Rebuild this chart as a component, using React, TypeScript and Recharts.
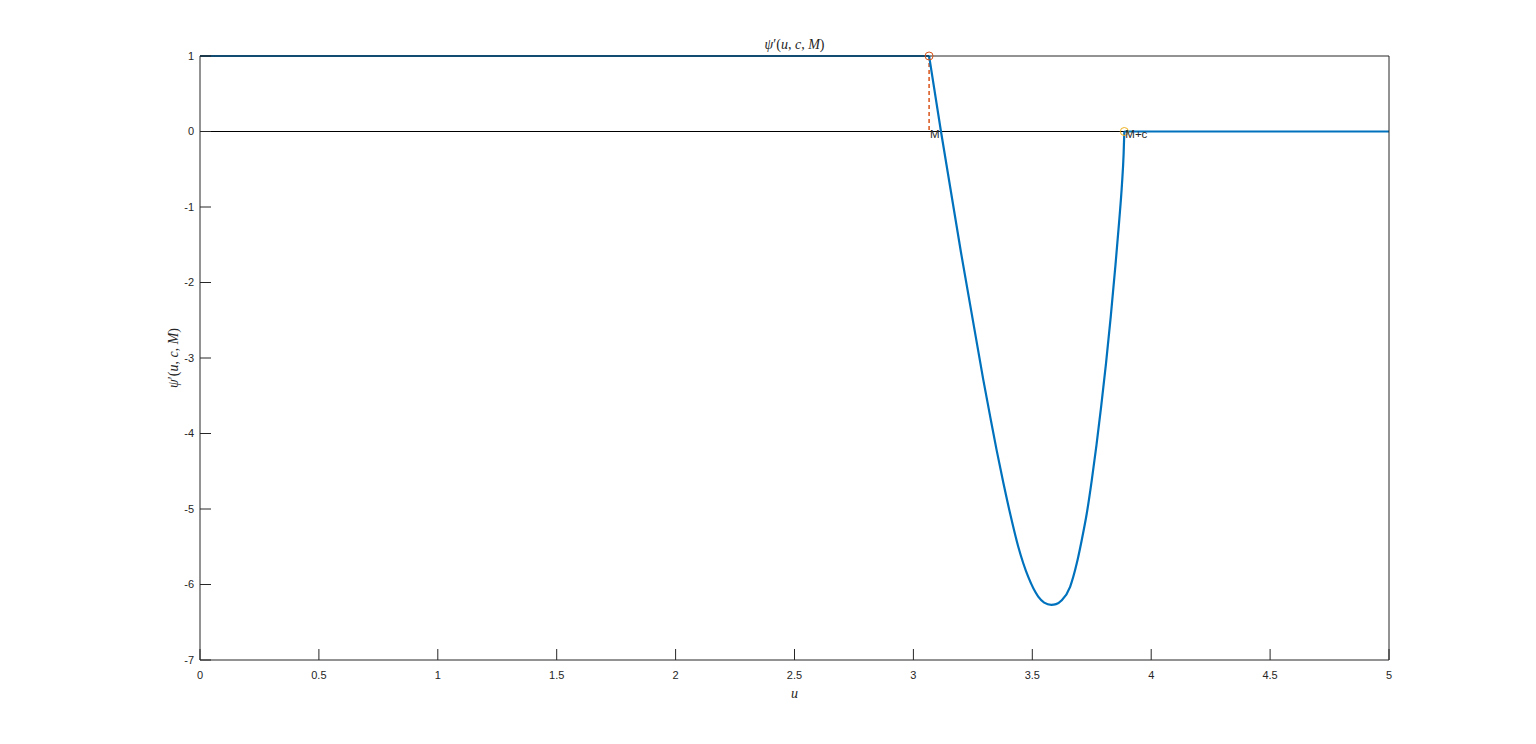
import React from 'react';
import { LineChart, Line, XAxis, YAxis, ReferenceDot, Label } from 'recharts';

// flat part at psi' = 1 (u from 0 to M)
const topU = [0, 3.066];
const topV = [1, 1];
// the dip between M and M+c
const dipU = [3.066, 3.116, 3.2, 3.294, 3.322, 3.35, 3.378, 3.406, 3.441, 3.483, 3.525, 3.55, 3.58, 3.6, 3.624, 3.659, 3.687, 3.708, 3.729, 3.75, 3.77, 3.79, 3.81, 3.83, 3.85, 3.865, 3.877, 3.884, 3.887];
const dipV = [1, 0, -1.6, -3.29, -3.76, -4.22, -4.65, -5.05, -5.5, -5.9, -6.16, -6.24, -6.27, -6.26, -6.21, -6.03, -5.72, -5.41, -5.06, -4.62, -4.15, -3.63, -3.07, -2.45, -1.76, -1.2, -0.7, -0.3, 0];
// flat part at psi' = 0 (u from M+c to 5)
const tailU = [3.887, 5];
const tailV = [0, 0];

const zeroU = [0, 5];
const zeroV = [0, 0];

const M_U = 3.066;
const MC_U = 3.887;
const dashU = [M_U, M_U];
const dashV = [1, 0];

const xTicks = [0, 0.5, 1, 1.5, 2, 2.5, 3, 3.5, 4, 4.5, 5];
const yTicks = [-7, -6, -5, -4, -3, -2, -1, 0, 1];

const toData = (us: number[], vs: number[]) => us.map((u, i) => ({ u, v: vs[i] }));
const topData = toData(topU, topV);
const dipData = toData(dipU, dipV);
const tailData = toData(tailU, tailV);
const zeroData = toData(zeroU, zeroV);
const dashData = toData(dashU, dashV);

const AX = '#262626';
const BLUE = '#0072BD';
const RED = '#D95319';
const YELLOW = '#EDB120';
const SANS = '"Liberation Sans", Arial, Helvetica, sans-serif';
const SERIF = '"Liberation Serif", "DejaVu Serif", serif';

const PsiText = (props: any) => (
  <text {...props} fontFamily={SERIF} fontSize={14} fill={AX}>
    <tspan fontStyle="italic">ψ</tspan>
    <tspan>′(</tspan>
    <tspan fontStyle="italic">u</tspan>
    <tspan>, </tspan>
    <tspan fontStyle="italic">c</tspan>
    <tspan>, </tspan>
    <tspan fontStyle="italic">M</tspan>
    <tspan>)</tspan>
  </text>
);

const renderTitle = (props: any) => {
  const vb = props.viewBox || {};
  return <PsiText x={vb.x + vb.width / 2} y={vb.y + vb.height - 7} textAnchor="middle" />;
};

const renderXLabel = (props: any) => {
  const vb = props.viewBox || {};
  return (
    <text x={vb.x + vb.width / 2} y={vb.y + 38} textAnchor="middle" fontFamily={SERIF} fontStyle="italic" fontSize={14} fill={AX}>
      u
    </text>
  );
};

const renderYLabel = (props: any) => {
  const vb = props.viewBox || {};
  const x = vb.x + vb.width - 22;
  const y = vb.y + vb.height / 2;
  return <PsiText x={x} y={y} textAnchor="middle" transform={`rotate(-90, ${x}, ${y})`} />;
};

const pointLabel = (txt: string) => (props: any) => {
  const vb = props.viewBox || {};
  const cx = vb.x + (vb.width || 0) / 2;
  const cy = vb.y + (vb.height || 0) / 2;
  return (
    <text x={cx + 1} y={cy + 6} textAnchor="start" fontFamily={SANS} fontSize={11.5} fill={AX}>
      {txt}
    </text>
  );
};

export default function App() {
  return (
    <div style={{ width: 1520, height: 720 }}>
      <LineChart width={1520} height={720} margin={{ top: 40, right: 129, bottom: 38, left: 152 }}>
        <XAxis
          xAxisId="top"
          orientation="top"
          type="number"
          dataKey="u"
          domain={[0, 5]}
          ticks={xTicks}
          height={8}
          stroke={AX}
          tickSize={-11}
          tickMargin={0}
          tickFormatter={() => ''}
        >
          <Label content={renderTitle} />
        </XAxis>
        <XAxis
          type="number"
          dataKey="u"
          domain={[0, 5]}
          ticks={xTicks}
          height={30}
          stroke={AX}
          tickSize={-11}
          tickMargin={22}
          interval={0}
          tick={{ fill: AX, fontSize: 11, fontFamily: SANS }}
        >
          <Label content={renderXLabel} />
        </XAxis>
        <YAxis
          type="number"
          domain={[-7, 1]}
          ticks={yTicks}
          width={40}
          stroke={AX}
          tickSize={-11}
          tickMargin={17}
          interval={0}
          tick={{ fill: AX, fontSize: 11, fontFamily: SANS }}
        >
          <Label content={renderYLabel} />
        </YAxis>
        <YAxis
          yAxisId="right"
          orientation="right"
          type="number"
          domain={[-7, 1]}
          ticks={yTicks}
          width={10}
          stroke={AX}
          tickSize={-11}
          tickMargin={0}
          interval={0}
          tickFormatter={() => ''}
        />
        <Line data={zeroData} dataKey="v" stroke="#000000" strokeWidth={1} dot={false} isAnimationActive={false} type="linear" />
        <Line data={dashData} dataKey="v" stroke={RED} strokeWidth={1.5} strokeDasharray="4 3" dot={false} isAnimationActive={false} type="linear" />
        <Line data={topData} dataKey="v" stroke={BLUE} strokeWidth={2} dot={false} isAnimationActive={false} type="linear" />
        <Line data={dipData} dataKey="v" stroke={BLUE} strokeWidth={2.2} dot={false} isAnimationActive={false} type="monotone" />
        <Line data={tailData} dataKey="v" stroke={BLUE} strokeWidth={2.2} dot={false} isAnimationActive={false} type="linear" />
        <ReferenceDot x={M_U} y={1} r={4} fill="none" stroke={RED} strokeWidth={1} />
        <ReferenceDot x={M_U} y={0} r={0} fill="none" stroke="none" label={pointLabel('M')} />
        <ReferenceDot x={MC_U} y={0} r={4} fill="none" stroke={YELLOW} strokeWidth={1} label={pointLabel('M+c')} />
      </LineChart>
    </div>
  );
}
